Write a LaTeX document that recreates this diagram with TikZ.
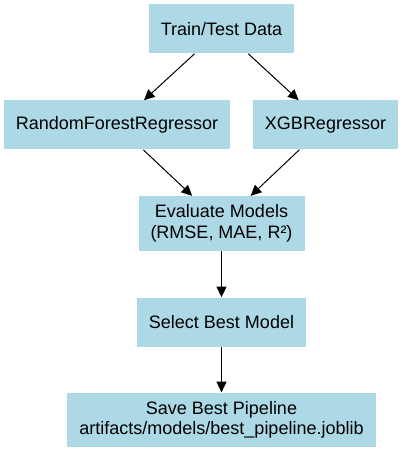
\documentclass[tikz,border=0pt]{standalone}
\usepackage{fontspec}
\setmainfont{Liberation Sans}
\usepackage{tikz}
\usetikzlibrary{arrows.meta,positioning}
\definecolor{StageBlue}{RGB}{173,216,230}

\begin{document}
\begin{tikzpicture}[x=.75pt,y=-.75pt,font=\fontsize{13.5}{15.3}\selectfont,
  stage/.style={fill=StageBlue,align=center,inner xsep=9pt,inner ysep=6.6pt,minimum height=36.75pt},
  flow/.style={-{Triangle[length=8pt,width=7.5pt]},line width=.75pt}]
\useasboundingbox (0,0) rectangle (403,452);
% nodes
\node[stage] (data) at (221.5,29){Train/Test Data};
\node[stage] (rf) at (117,125){RandomForestRegressor};
\node[stage] (xgb) at (325.5,125){XGBRegressor};
\node[stage] (eval) at (221.5,223.5){Evaluate Models\\(RMSE, MAE, R²)};
\node[stage] (best) at (221.5,322){Select Best Model};
\node[stage] (save) at (221.5,420){Save Best Pipeline\\artifacts/models/best\_pipeline.joblib};
% edges
\draw[flow] (data)--(rf);
\draw[flow] (data)--(xgb);
\draw[flow] (rf)--(eval);
\draw[flow] (xgb)--(eval);
\draw[flow] (eval)--(best);
\draw[flow] (best)--(save);
\end{tikzpicture}
\end{document}
